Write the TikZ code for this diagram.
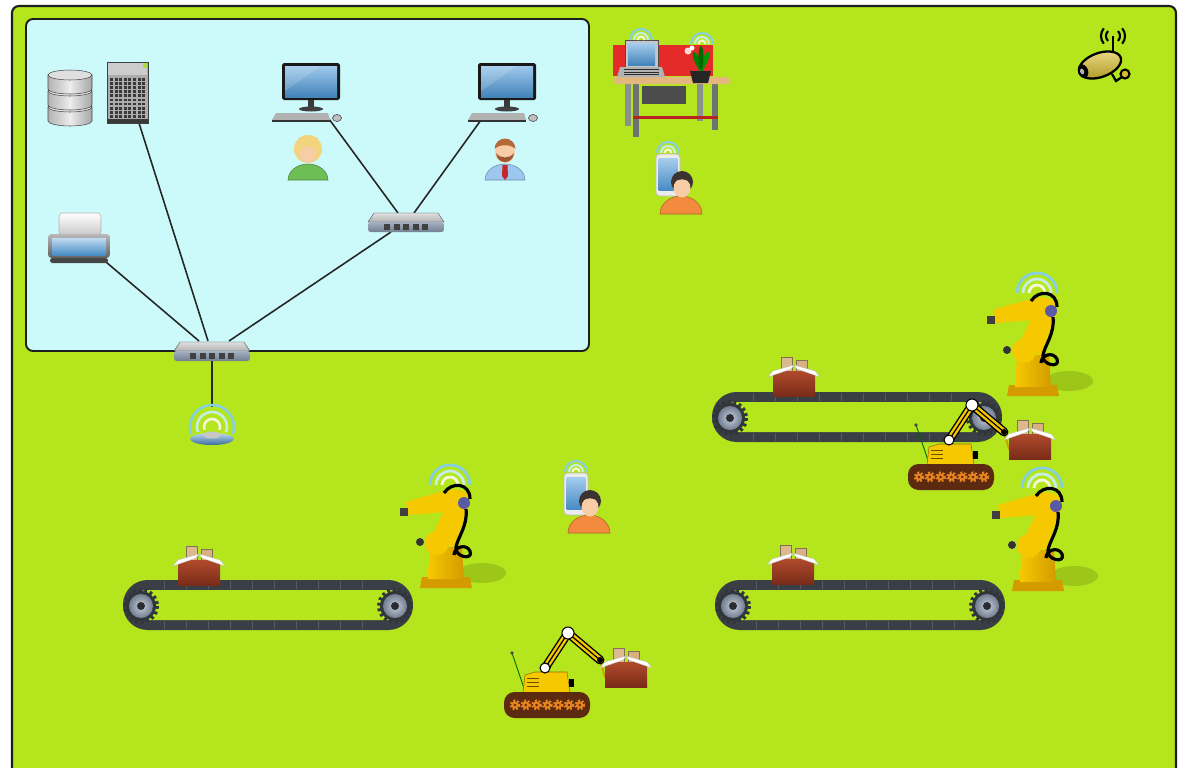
\documentclass[tikz,border=0pt]{standalone}
\definecolor{field}{HTML}{B5E61D}
\definecolor{office}{HTML}{CCFAFB}
\definecolor{frameline}{HTML}{1E1E1E}
\definecolor{robotyellow}{HTML}{F6C800}
\definecolor{robotdark}{HTML}{D39B00}
\definecolor{shadowgreen}{HTML}{9CC618}
\definecolor{belt}{HTML}{3A3F45}
\definecolor{rollerblue}{HTML}{8E9EB5}
\definecolor{boxbrown}{HTML}{B04A2C}
\definecolor{boxdark}{HTML}{7A2C18}
\definecolor{cardboard}{HTML}{DDB98E}
\definecolor{screenblue}{HTML}{4F9BDA}
\definecolor{ringblue}{HTML}{86CFE0}
\definecolor{ringpale}{HTML}{C6EDE6}
\definecolor{ringwhite}{HTML}{F4F8D8}
\definecolor{skin}{HTML}{F7CDA7}
\definecolor{orangeshirt}{HTML}{F28B3E}
\definecolor{darkhair}{HTML}{3B3430}
\definecolor{blond}{HTML}{F2D37E}
\definecolor{shirtgreen}{HTML}{6DBE55}
\definecolor{shirtblue}{HTML}{9CC7EF}
\definecolor{hairbrown}{HTML}{B5683A}
\definecolor{tiered}{HTML}{C4282D}
\definecolor{trackbrown}{HTML}{5B2A10}
\definecolor{gearorange}{HTML}{E8841E}
\definecolor{desktan}{HTML}{E3B77E}
\definecolor{panelred}{HTML}{E52A2A}
\definecolor{legsgray}{HTML}{8A8F8F}
\definecolor{camyellow}{HTML}{D9BE2E}
\tikzset{
  port/.style={inner sep=0pt, outer sep=0pt, minimum size=0pt},
  link/.style={draw=black!85, line width=0.9pt},
  % radio waves above a wireless device
  pics/waves/.style={code={
    \draw[ringblue, line width=1.2pt] (-11,0) arc[start angle=180,end angle=360,radius=11];
    \draw[ringpale, line width=1.2pt] (-7,0) arc[start angle=180,end angle=360,radius=7];
    \draw[ringwhite, line width=1.2pt] (-3.5,0) arc[start angle=180,end angle=360,radius=3.5];
  }},
  % stacked disk database
  pics/database/.style={code={
    \foreach \tt in {9,-7,-23}{
      \path[draw=gray!55!black, line width=0.3pt, left color=gray!60, right color=gray!70, middle color=gray!15]
        (-22,\tt) -- (-22,\tt+14) arc[start angle=180,end angle=0,x radius=22,y radius=5] -- (22,\tt) -- cycle;
      \fill[gray!25, draw=gray!55!black, line width=0.3pt] (0,\tt) ellipse[x radius=22,y radius=5];
    }
  }},
  % tower server
  pics/server/.style={code={
    \fill[gray!65, draw=gray!50!black, line width=0.3pt] (-20,-30) rectangle (21,31);
    \fill[gray!40] (-19,-29) rectangle (20,-17);
    \foreach \i in {0,...,7}{\foreach \j in {0,...,9}{
      \fill[gray!45!black] (-17+\i*4.6,-14+\j*4.1) rectangle ++(3,2.8);}}
    \fill[gray!45!black] (-20,27) rectangle (21,31);
    \fill[yellow!60!green!80!white] (16,-29) rectangle (20,-24);
  }},
  % desktop computer with keyboard and mouse
  pics/monitor/.style={code={
    \fill[gray!20!black, rounded corners=1pt] (-29,-18) rectangle (29,19);
    \shade[top color=screenblue!55!white, bottom color=screenblue!85!black] (-26,-15) rectangle (26,16);
    \fill[white, opacity=0.15] (-26,-15) -- (10,-15) -- (-26,10) -- cycle;
    \fill[gray!45!black] (-3,19) rectangle (3,27);
    \fill[gray!50!black] (0,28) ellipse[x radius=12,y radius=2.5];
    \fill[gray!60] (-35,32) -- (17,32) -- (19,39) -- (-39,39) -- cycle;
    \fill[gray!40!black] (-39,39) rectangle (19,41);
    \fill[gray!50, draw=gray!40!black, line width=0.3pt] (26,37) ellipse[x radius=4.5,y radius=3.5];
  }},
  pics/userfemale/.style={code={
    \fill[shirtgreen, draw=shirtgreen!70!black, line width=0.3pt]
      (-20,30) arc[start angle=180,end angle=360,x radius=20,y radius=16] -- cycle;
    \fill[blond] (0,-1) circle (14);
    \fill[skin] (0,4) ellipse[x radius=8,y radius=9];
    \fill[blond] (-9,-7) .. controls (-4,-1) and (4,-1) .. (9,-7) -- (9,-13) -- (-9,-13) -- cycle;
  }},
  pics/usermale/.style={code={
    \fill[shirtblue, draw=shirtblue!70!black, line width=0.3pt]
      (-20,30) arc[start angle=180,end angle=360,x radius=20,y radius=16] -- cycle;
    \fill[tiered] (-2.5,15) -- (2.5,15) -- (3,26) -- (0,30) -- (-3,26) -- cycle;
    \fill[skin] (0,2) ellipse[x radius=10,y radius=11];
    \fill[hairbrown] (-10.5,-1) arc[start angle=180,end angle=360,radius=10.5] .. controls (6,-6) and (-6,-6) .. cycle;
    \fill[hairbrown!85!black] (-9,3) .. controls (-8,15) and (8,15) .. (9,3) .. controls (5,9) and (-5,9) .. cycle;
  }},
  pics/printer/.style={code={
    \shade[top color=white, bottom color=gray!45, draw=gray!60, line width=0.3pt, rounded corners=2pt] (-20,-25) rectangle (22,-2);
    \shade[top color=gray!55, bottom color=gray!75!black, rounded corners=2pt] (-31,-4) rectangle (31,20);
    \shade[top color=screenblue!35!white, bottom color=screenblue!90!black] (-27,0) rectangle (27,17);
    \fill[gray!55!black, rounded corners=1pt] (-29,20) rectangle (29,25);
  }},
  pics/switch/.style={code={
    \shade[top color=gray!25, bottom color=gray!60, draw=gray!50!black, line width=0.2pt] (-32,-9) -- (32,-9) -- (38,0) -- (-38,0) -- cycle;
    \shade[top color=rollerblue!80!white, bottom color=rollerblue!80!black, rounded corners=1.5pt] (-38,0) rectangle (38,10);
    \foreach \i in {-2,...,2} \fill[black!75] (\i*9.5-3,2) rectangle ++(6,5.5);
  }},
  pics/accesspoint/.style={code={
    \draw[ringblue, line width=1.5pt] (0,0) ++(160:22) arc[start angle=160,end angle=380,radius=22];
    \draw[ringpale, line width=1.5pt] (0,0) ++(160:15) arc[start angle=160,end angle=380,radius=15];
    \draw[ringwhite, line width=1.5pt] (0,0) ++(160:8) arc[start angle=160,end angle=380,radius=8];
    \shade[top color=screenblue!40!white, bottom color=screenblue!70!black] (0,12) ellipse[x radius=22,y radius=6];
    \fill[gray!45] (0,8) ellipse[x radius=9,y radius=3.5];
  }},
  pics/phoneuser/.style={code={
    \pic at (0,-22) {waves};
    \fill[gray!15, draw=gray!55, line width=0.4pt, rounded corners=2pt] (-12,-21) rectangle (12,21);
    \shade[top color=screenblue!50!white, bottom color=screenblue!90!black] (-9.5,-17) rectangle (9.5,15);
    \fill[orangeshirt, draw=orangeshirt!70!black, line width=0.3pt]
      (-8,39) arc[start angle=180,end angle=360,x radius=21,y radius=18] -- cycle;
    \fill[darkhair] (14,7) circle (11);
    \fill[skin] (14,13) ellipse[x radius=8.5,y radius=9.5];
    \fill[darkhair] (5,8) .. controls (10,3) and (18,3) .. (23,8) -- (23,2) -- (5,2) -- cycle;
  }},
  pics/conveyor/.style={code={
    \fill[belt, rounded corners=14pt] (-145,-25) rectangle (145,25);
    \fill[field, rounded corners=8pt] (-135,-15) rectangle (135,15);
    \foreach \x in {-104,-82,...,104}
      \draw[gray!45!belt, line width=0.3pt] (\x,-24) -- (\x,-16) (\x,16) -- (\x,24);
    \foreach \x in {-127,127}{
      \fill[belt!85!black] (\x,1) circle (15);
      \draw[belt!85!black, line width=2.2pt, dash pattern=on 1.6pt off 1.6pt] (\x,1) circle (16);
      \shade[inner color=rollerblue!50!white, outer color=rollerblue!80!black] (\x,1) circle (12);
      \fill[belt!70!black] (\x,1) circle (4);
    }
  }},
  pics/cargo/.style={code={
    \fill[cardboard, draw=cardboard!60!black, line width=0.2pt] (-13,-26) rectangle (-2,-12);
    \fill[cardboard!85!brown, draw=cardboard!60!black, line width=0.2pt] (2,-23) rectangle (13,-11);
    \shade[top color=boxbrown, bottom color=boxdark] (-21,-12) rectangle (21,13);
    \fill[white, draw=gray!50, line width=0.2pt] (-21,-12) -- (-26,-6) -- (-3,-14) -- (0,-18) -- cycle;
    \fill[white, draw=gray!50, line width=0.2pt] (21,-12) -- (26,-6) -- (3,-14) -- (0,-18) -- cycle;
  }},
  pics/indrobot/.style={code={
    \fill[shadowgreen] (32,88) ellipse[x radius=24,y radius=10];
    \draw[ringblue, line width=1.6pt] (-20,0) arc[start angle=180,end angle=360,radius=20];
    \draw[ringpale, line width=1.6pt] (-14,0) arc[start angle=180,end angle=360,radius=14];
    \draw[ringwhite, line width=1.6pt] (-8,0) arc[start angle=180,end angle=360,radius=8];
    \fill[robotdark] (-28,92) -- (20,92) -- (22,103) -- (-30,103) -- cycle;
    \shade[left color=robotyellow, right color=robotdark] (-20,62) -- (12,62) -- (14,94) -- (-22,94) -- cycle;
    \fill[robotyellow] (0,12) -- (20,18) -- (4,62) -- (-20,56) -- cycle;
    \fill[robotyellow] (-13,58) circle (12);
    \fill[black!80] (-30,57) circle (4);
    \draw[black, line width=1.8pt] (16,24) .. controls (18,40) and (8,52) .. (6,62) .. controls (4,72) and (24,76) .. (20,66) .. controls (16,58) and (4,62) .. (4,70);
    \fill[robotyellow] (-44,17) .. controls (-20,10) and (-5,5) .. (6,4) -- (18,8) -- (20,22) -- (8,26) -- (-42,30) -- cycle;
    \fill[black!75] (-50,23) rectangle (-42,31);
    \fill[blue!30!gray] (14,18) circle (6);
    \draw[black, line width=1.8pt] (-6,8) .. controls (2,-4) and (20,-2) .. (20,14);
  }},
  pics/trackbot/.style={code={
    \draw[green!40!black, line width=0.5pt] (-35,-52) -- (-22,-14);
    \fill[black!70] (-35,-52) circle (1.8);
    \fill[robotyellow, draw=robotdark!70!black, line width=0.3pt] (-24,-12) -- (-22,-30) -- (-12,-33) -- (20,-33) -- (23,-12) -- cycle;
    \foreach \yy in {-27,-23,-19} \draw[robotdark!50!black, line width=0.5pt] (-20,\yy) -- (-8,\yy);
    \fill[black] (22,-26) rectangle (27,-18);
    \draw[robotyellow!80!black, line width=1pt] (53,-45) -- (62,-38) (53,-45) -- (58,-28) -- (62,-26);
    \draw[black, line width=5pt, line cap=round, line join=round] (-2,-37) -- (21,-72) -- (53,-45);
    \draw[robotyellow, line width=3.4pt, line cap=round, line join=round] (-2,-37) -- (21,-72) -- (53,-45);
    \draw[black, line width=0.7pt] (-2,-37) -- (21,-72) -- (53,-45);
    \fill[white, draw=black, line width=0.6pt] (-2,-37) circle (5);
    \fill[white, draw=black, line width=0.6pt] (21,-72) circle (6);
    \fill[black] (53,-45) circle (3);
    \fill[trackbrown, rounded corners=6pt] (-43,-13) rectangle (43,13);
    \foreach \i in {0,...,6}{
      \draw[gearorange, line width=1.5pt, dash pattern=on 1pt off 1pt] (-32+\i*10.8,0) circle (4.2);
      \fill[gearorange] (-32+\i*10.8,0) circle (3.6);
      \fill[trackbrown] (-32+\i*10.8,0) circle (1.4);
    }
    \pic at (79,-31) {cargo};
  }},
}
\begin{document}
\begin{tikzpicture}[x=0.02cm,y=-0.02cm]
\useasboundingbox (0,0) rectangle (1178,768);
\fill[white] (0,0) rectangle (1178,768);
% shop floor
\begin{scope}
  \clip (0,0) rectangle (1178,768);
  \fill[field, draw=frameline, line width=1.2pt, rounded corners=4pt] (12,6) rectangle (1176,820);
\end{scope}
% office area
\fill[office, draw=frameline, line width=1.1pt, rounded corners=4pt] (26,19) rectangle (589,351);

% connection points
\node[port] (srvport) at (139,123) {};
\node[port] (prnport) at (106,262) {};
\node[port] (pcAport) at (329,119) {};
\node[port] (pcBport) at (481,120) {};
\node[port] (swAin1) at (398,213) {};
\node[port] (swAin2) at (414,213) {};
\node[port] (swAup) at (391,232) {};
\node[port] (swBin1) at (199,341) {};
\node[port] (swBin2) at (208,341) {};
\node[port] (swBin3) at (229,341) {};
\node[port] (swBdown) at (212,361) {};
\node[port] (apport) at (212,407) {};

% cabling
\draw[link] (srvport) -- (swBin2);
\draw[link] (prnport) -- (swBin1);
\draw[link] (swBin3) -- (swAup);
\draw[link] (pcAport) -- (swAin1);
\draw[link] (pcBport) -- (swAin2);
\draw[link] (swBdown) -- (apport);

% office devices
\pic at (70,98) {database};
\pic at (127,92) {server};
\pic at (311,81) {monitor};
\pic at (507,81) {monitor};
\pic at (308,150) {userfemale};
\pic at (505,150) {usermale};
\pic at (79,238) {printer};
\pic at (406,222) {switch};
\pic at (212,351) {switch};
\pic at (212,427) {accesspoint};

% work desk with laptop and plant
\fill[panelred] (613,45) rectangle (713,76);
\fill[legsgray] (625,84) rectangle (631,126);
\fill[legsgray!80!black] (633,84) rectangle (639,137);
\fill[legsgray] (697,84) rectangle (703,121);
\fill[legsgray!80!black] (712,84) rectangle (718,130);
\fill[panelred!80!black] (633,116) rectangle (718,119);
\fill[gray!60!black] (642,86) rectangle (686,104);
\fill[desktan] (613,77) -- (728,77) -- (730,84) -- (615,84) -- cycle;
\fill[gray!45, draw=gray!60!black, line width=0.3pt] (625,40) rectangle (658,67);
\shade[top color=screenblue!50!white, bottom color=screenblue!85!black] (628,43) rectangle (655,65);
\fill[gray!60] (620,67) -- (662,67) -- (665,77) -- (617,77) -- cycle;
\foreach \k in {69.5,72,74.5} \draw[gray!35!black, line width=0.3pt] (624,\k) -- (659,\k);
\pic at (641,40) {waves};
\fill[green!50!black, rotate around={25:(698,62)}] (698,62) ellipse[x radius=3, y radius=11];
\fill[green!60!black, rotate around={-25:(704,62)}] (704,62) ellipse[x radius=3, y radius=11];
\fill[green!40!black] (701,58) ellipse[x radius=2.5, y radius=12];
\fill[pink!60!white] (688,51) circle (3.5);
\fill[white] (692,48) circle (2.5);
\fill[black!85] (690,71) -- (711,71) -- (708,83) -- (693,83) -- cycle;
\pic at (702,44) {waves};

% handheld operators
\pic at (668,175) {phoneuser};
\pic at (576,494) {phoneuser};

% surveillance camera
\draw[black, line width=1.3pt] (1113,60) -- (1113,36);
\draw[black, line width=1.2pt] (1113,36) ++(135:7) arc[start angle=135,end angle=225,radius=7];
\draw[black, line width=1.2pt] (1113,36) ++(-45:7) arc[start angle=-45,end angle=45,radius=7];
\draw[black, line width=1.2pt] (1113,36) ++(140:12) arc[start angle=140,end angle=220,radius=12];
\draw[black, line width=1.2pt] (1113,36) ++(-40:12) arc[start angle=-40,end angle=40,radius=12];
\draw[black, line width=1.3pt] (1112,74) -- (1116,81) -- (1122,77);
\fill[camyellow, draw=black, line width=1.2pt] (1125,74) circle (4.5);
\shade[top color=camyellow!60!white, bottom color=camyellow!80!black, draw=black, line width=1.3pt, rotate around={20:(1100,65)}] (1100,65) ellipse[x radius=22, y radius=12];
\fill[black, rotate around={20:(1100,65)}] (1082,65) ellipse[x radius=5, y radius=7];
\fill[gray!60, rotate around={20:(1100,65)}] (1081,65) ellipse[x radius=2, y radius=3];

% conveyors and cargo
\pic at (857,417) {conveyor};
\pic at (860,605) {conveyor};
\pic at (268,605) {conveyor};
\pic at (794,383) {cargo};
\pic at (793,571) {cargo};
\pic at (199,572) {cargo};

% industrial arms
\pic at (1037,293) {indrobot};
\pic at (1042,488) {indrobot};
\pic at (450,485) {indrobot};

% mobile robots
\pic at (951,477) {trackbot};
\pic at (547,705) {trackbot};
\end{tikzpicture}
\end{document}
